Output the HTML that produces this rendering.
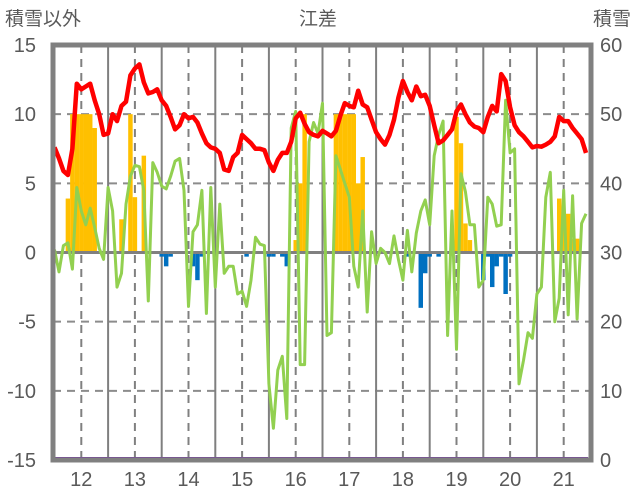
<!DOCTYPE html>
<html><head><meta charset="utf-8">
<style>
html,body{margin:0;padding:0;background:#fff;}
svg{display:block;font-family:"Liberation Sans","Noto Sans CJK JP",sans-serif;}
</style></head>
<body>
<svg id="chart" width="636" height="501" viewBox="0 0 636 501" xmlns="http://www.w3.org/2000/svg">
<text x="5" y="25" font-size="19" fill="#595959">積雪以外</text>
<text x="318" y="25" font-size="19" fill="#595959" text-anchor="middle">江差</text>
<text x="631" y="25" font-size="19" fill="#595959" text-anchor="end">積雪</text>
<g id="grid"></g><g id="bars"></g><g id="lines"></g><g id="axes"></g>
</svg>
<script>
const startYear = 11.5;
const yearTicks = [12,13,14,15,16,17,18,19,20,21];
const leftTicks = [15,10,5,0,-5,-10,-15];
const rightTicks = [60,50,40,30,20,10,0];
const redValues = [7.6,6.8,5.9,5.6,7.5,12.2,11.8,12.0,12.2,11.0,10.0,8.5,8.6,10.0,9.5,10.6,10.9,12.8,13.3,13.6,12.3,11.5,11.6,11.8,11.0,10.6,9.8,8.9,9.2,10.0,9.7,
9.8,9.4,8.6,7.9,7.6,7.5,7.2,6.0,5.9,6.9,7.2,8.5,8.2,7.9,7.5,7.5,7.4,6.5,5.9,6.7,7.2,7.2,8.0,9.7,10.1,9.3,8.7,8.5,8.4,8.8,
8.6,8.4,8.8,9.9,10.8,10.6,10.5,11.7,10.7,10.5,9.6,8.7,8.2,7.8,8.5,9.6,11.2,12.4,11.6,11.0,12.0,11.3,11.4,10.6,9.2,7.9,8.1,8.5,8.9,10.2,
10.7,10.0,9.4,9.1,9.0,8.7,9.8,10.6,10.2,12.9,12.4,10.5,9.2,8.7,8.4,8.0,7.6,7.7,7.65,7.8,8.0,8.4,9.8,9.5,9.5,9.0,8.6,8.2,7.2];
const greenValues = [0.2,-1.4,0.5,0.7,-1.2,4.7,3.0,2.0,3.2,1.8,0.3,-0.5,4.7,3.0,-2.5,-1.5,3.5,5.5,6.3,6.2,4.5,-3.5,6.5,5.8,4.8,4.6,5.5,6.6,6.8,4.5,-3.9,
1.5,2.0,4.5,-4.4,4.7,-2.5,3.5,-1.5,-1.0,-1.0,-3.0,-2.8,-3.9,-2.0,1.1,0.6,0.5,-9.5,-12.7,-8.5,-7.5,-12.0,9.0,10.2,-8.1,-8.1,8.0,9.4,8.6,10.8,
-6.0,-5.8,7.0,6.0,5.0,4.0,-1.0,-2.5,3.0,-4.3,1.5,-0.8,0.3,0.0,-0.8,1.2,-0.5,-2.0,1.6,-1.4,1.4,3.0,3.8,2.0,7.0,8.5,9.5,-6.0,3.0,-7.0,
5.7,4.4,2.0,2.0,-2.5,-2.0,4.0,3.5,1.9,2.0,11.0,7.2,7.5,-9.5,-7.8,-5.8,-6.2,-3.0,-2.5,4.0,5.8,-5.0,-3.3,4.5,-4.5,4.1,-4.8,2.1,2.8];
const snowMonths = [3,4,5,6,7,8,9,15,17,18,20,54,55,56,63,64,65,66,67,68,69,90,91,92,93,113,114,115,116,117];
const snowValues = [3.9,10,10,10,10,10,9,2.4,10,4,7,0.9,5,10,10,10,10,10,10,5,6.9,9.8,7.9,2.1,0.9,3.9,2.8,2.8,1,1];
const negMonths = [24,25,26,31,32,33,43,48,49,51,52,79,82,83,84,86,96,97,98,99,100,101,102];
const negValues = [-0.3,-1.0,-0.3,-1.0,-2.0,-0.3,-0.3,-0.3,-0.3,-0.3,-1.0,-0.3,-4.0,-1.5,-0.3,-0.3,-2.0,-0.3,-2.5,-1.0,-0.3,-3.0,-0.3];

const L=53,R=591,T=45,B=460;
const xScale = t => 81.3 + (t-12)*53.6;
const xMonth = i => xScale(startYear + i/12);
const yScale = v => 252.5 - v*(B-T)/30;
const NS='http://www.w3.org/2000/svg';
function mk(tag, attrs, parent){const e=document.createElementNS(NS,tag);for(const k in attrs)e.setAttribute(k,attrs[k]);parent.appendChild(e);return e;}
const grid=document.getElementById('grid'),bars=document.getElementById('bars'),lines=document.getElementById('lines'),axes=document.getElementById('axes');

leftTicks.forEach((v,k)=>{
  if(v!==15 && v!==-15 && v!==0){
    const g=mk('line',{x1:L,x2:R,y1:yScale(v),y2:yScale(v),stroke:'#8c8c8c','stroke-width':2,'stroke-dasharray':'8,6'},grid);
    
    
  }
  const t=mk('text',{x:36,y:yScale(v)+7,'font-size':20,fill:'#595959','text-anchor':'end'},axes);
  t.textContent=v;
  
  
  const r=mk('text',{x:600,y:yScale(v)+7,'font-size':20,fill:'#595959'},axes);
  r.textContent=rightTicks[k];
  
  
});
yearTicks.forEach(y=>{
  const x=xScale(y);
  const d=mk('line',{x1:x,x2:x,y1:T,y2:B,stroke:'#808080','stroke-width':2,'stroke-dasharray':'8,6'},grid);
  
  
  const xs=xScale(y+0.5);
  if(xs<R-2){
    const s=mk('line',{x1:xs,x2:xs,y1:T,y2:B,stroke:'#7f7f7f','stroke-width':2},grid);
    
    
  }
  const t=mk('text',{x:x,y:486,'font-size':20,fill:'#595959','text-anchor':'middle'},axes);
  t.textContent=y;
  
  
});
const bw=53.6/12;
snowMonths.forEach((m,k)=>{
  const v=snowValues[k];
  const b=mk('rect',{x:xMonth(m)-bw/2,y:yScale(v),width:bw,height:yScale(0)-yScale(v),fill:'#ffc000'},bars);
  
  
});
negMonths.forEach((m,k)=>{
  const v=negValues[k];
  const b=mk('rect',{x:xMonth(m)-bw/2,y:yScale(0),width:bw,height:yScale(v)-yScale(0),fill:'#0070c0'},bars);
  
  
});
const z=mk('line',{x1:L,x2:R,y1:yScale(0),y2:yScale(0),stroke:'#808080','stroke-width':3},lines);


function path(vals,color,w,name){
  const d=vals.map((v,i)=>(i?'L':'M')+xMonth(i).toFixed(1)+','+yScale(v).toFixed(1)).join('');
  const p=mk('path',{d:d,fill:'none',stroke:color,'stroke-width':w,'stroke-linejoin':'round'},lines);
  
  
}
path(greenValues,'#92d050',3,'green-series-line');
path(redValues,'#ff0000',4.5,'red-series-line');
const pl=mk('line',{x1:L,x2:R-3,y1:yScale(-15)-1,y2:yScale(-15)-1,stroke:'#7030a0','stroke-width':4},lines);


const fr=mk('rect',{x:L,y:T,width:R-L,height:B-T,fill:'none',stroke:'#808080','stroke-width':5},axes);


</script>
</body></html>
